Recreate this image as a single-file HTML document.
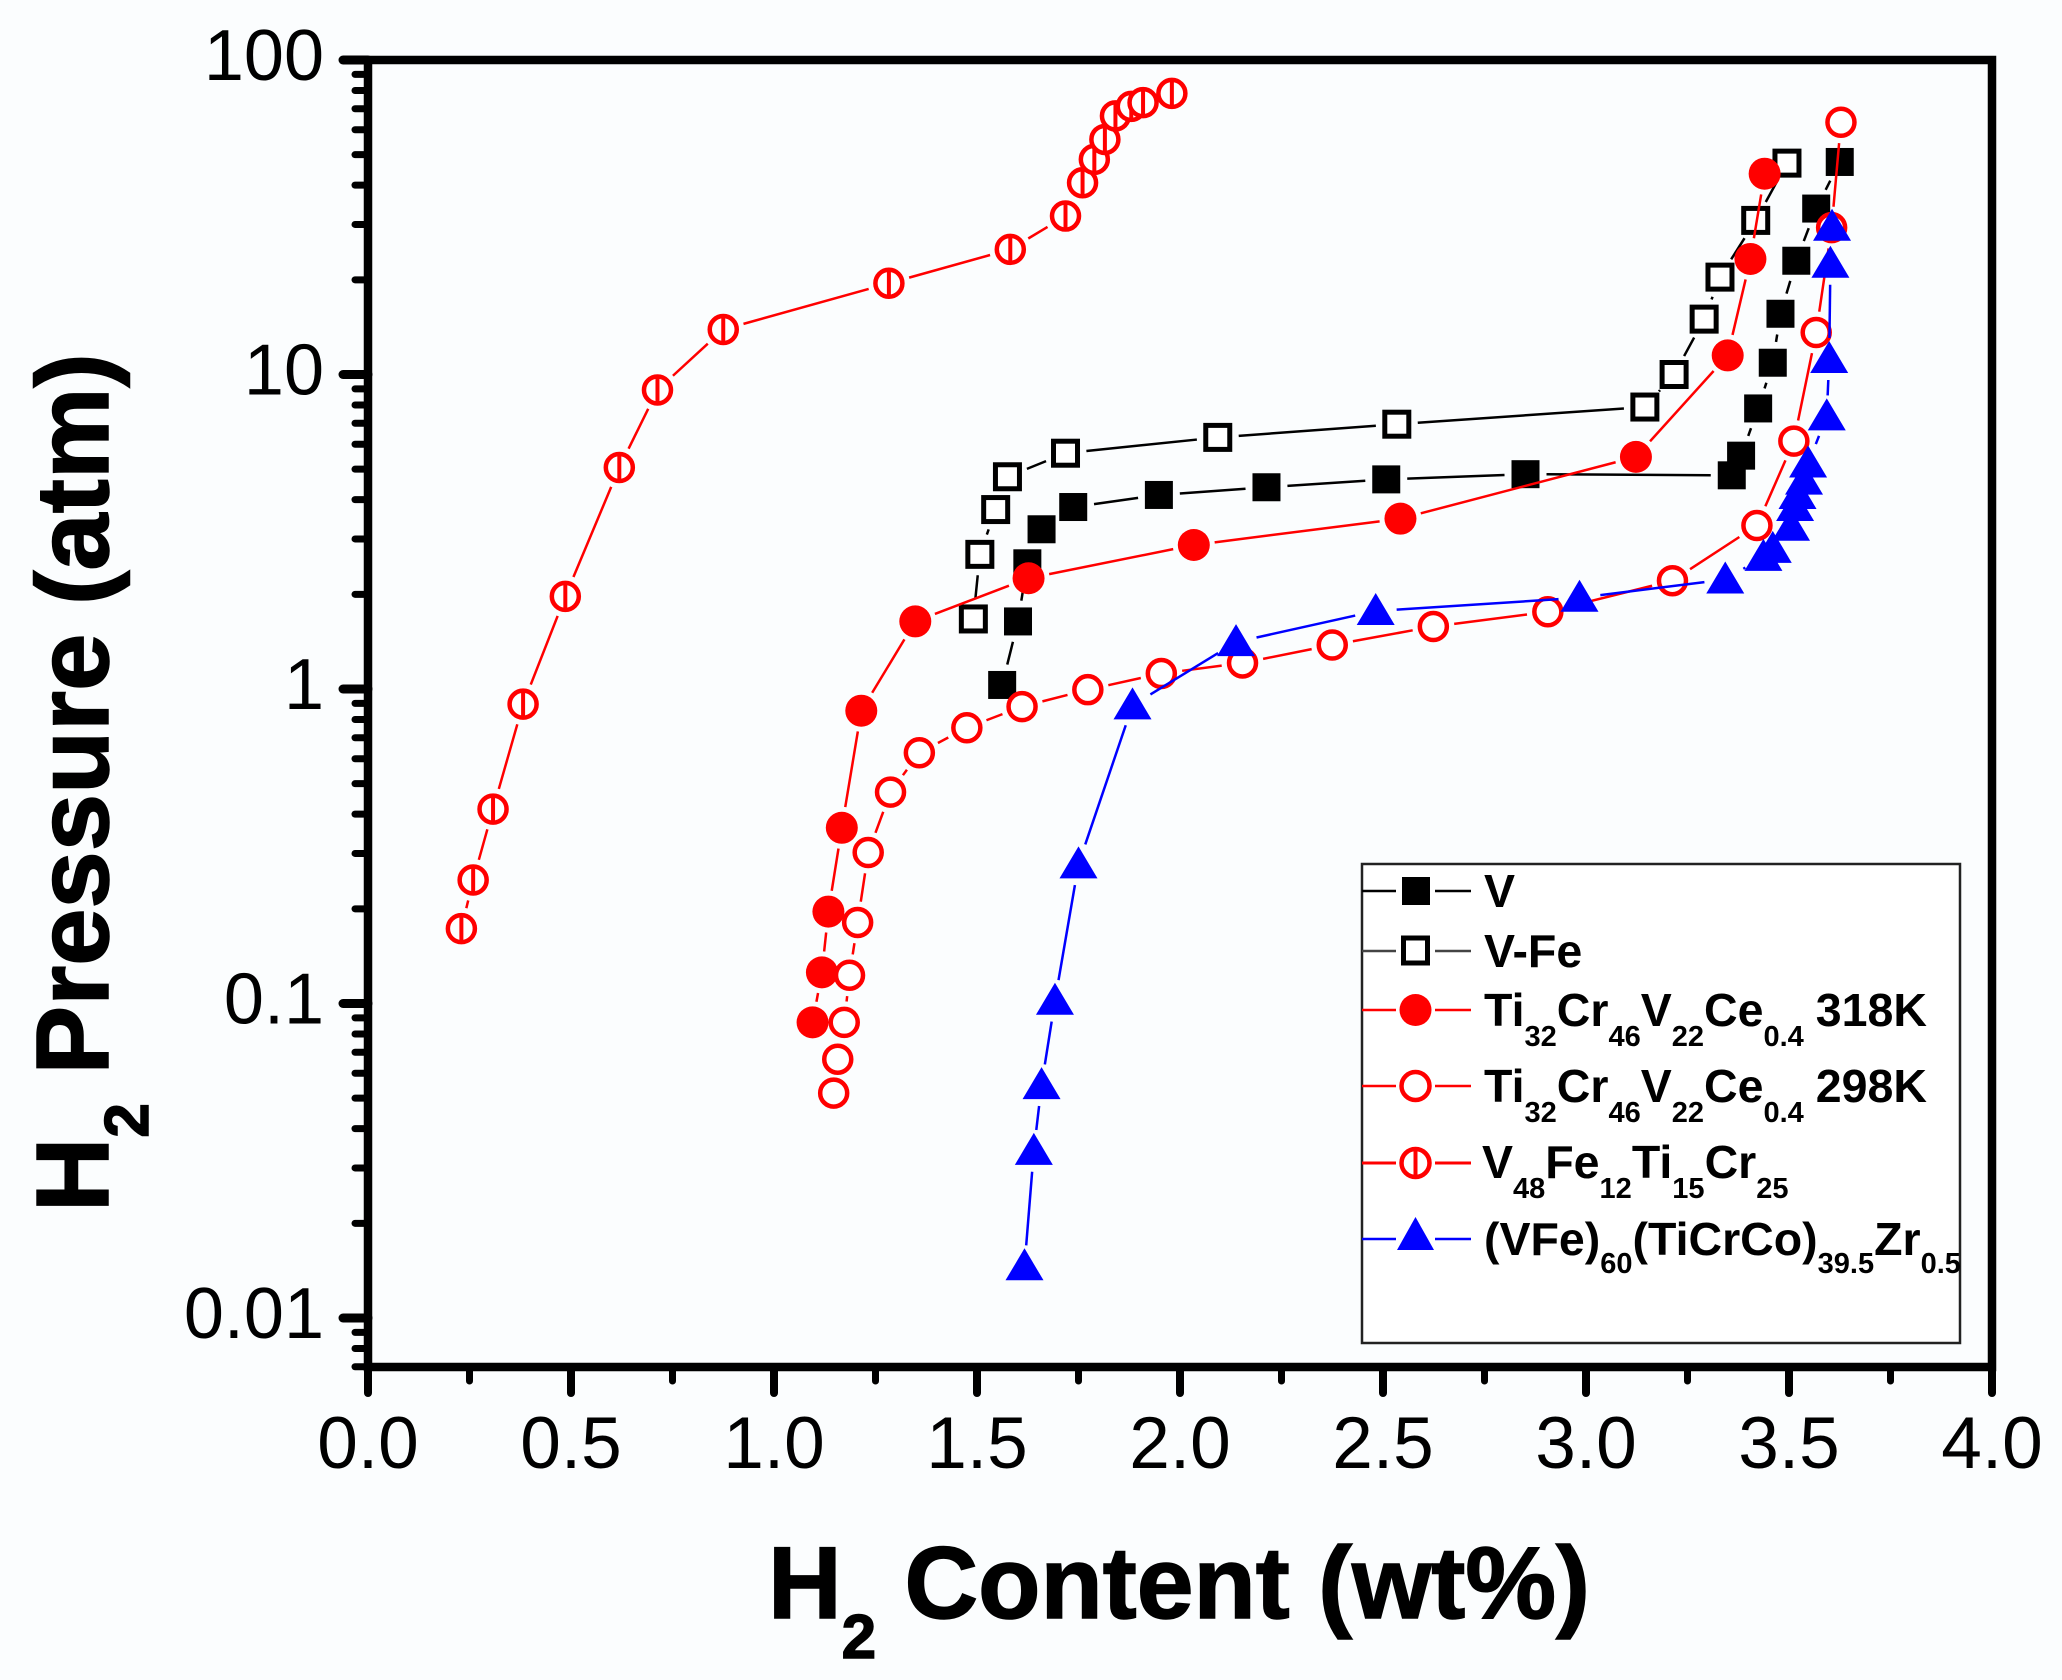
<!DOCTYPE html>
<html>
<head>
<meta charset="utf-8">
<title>Hydrogen PCT isotherms</title>
<style>
html,body{margin:0;padding:0;background:#fbfdfe;}
svg{display:block;font-family:"Liberation Sans",Arial,sans-serif;}
</style>
</head>
<body>
<svg id="chart" xmlns="http://www.w3.org/2000/svg" width="2062" height="1680" viewBox="0 0 2062 1680">
<rect x="0" y="0" width="2062" height="1680" fill="#fbfdfe"/>
<g id="series-layer"></g>
<g id="axis-layer"></g>
<text x="768" y="1618" font-size="102" font-weight="bold" fill="#000" stroke="#000" stroke-width="1.5">H<tspan font-size="62" dy="40">2</tspan><tspan dy="-40"> Content (wt%)</tspan></text>
<text transform="translate(108,1212) rotate(-90)" font-size="103" font-weight="bold" fill="#000" stroke="#000" stroke-width="1.5">H<tspan font-size="62" dy="40">2</tspan><tspan dy="-40"> Pressure (atm)</tspan></text>
<g id="legend">
<rect x="1362" y="864" width="598" height="479" fill="#fff" stroke="#222" stroke-width="2.5"/>
<g>
<path d="M1362 891H1396M1435 891H1471" stroke="#000" stroke-width="2.5" fill="none"/>
<rect x="1402" y="877" width="28" height="28" fill="#000"/>
<text x="1484" y="907" font-size="46.500" font-weight="bold">V</text>
</g>
<g>
<path d="M1362 951H1396M1435 951H1471" stroke="#444" stroke-width="2.5" fill="none"/>
<rect x="1403.500" y="938" width="24" height="25" fill="#fff" stroke="#000" stroke-width="5"/>
<text x="1484" y="967" font-size="46.500" font-weight="bold">V-Fe</text>
</g>
<g>
<path d="M1362 1010H1396M1435 1010H1471" stroke="#f00" stroke-width="2.5" fill="none"/>
<circle cx="1415.500" cy="1010" r="16" fill="#f00"/>
<text x="1484" y="1026" font-size="46.500" font-weight="bold">Ti<tspan font-size="29" dy="20">32</tspan><tspan dy="-20">Cr</tspan><tspan font-size="29" dy="20">46</tspan><tspan dy="-20">V</tspan><tspan font-size="29" dy="20">22</tspan><tspan dy="-20">Ce</tspan><tspan font-size="29" dy="20">0.4</tspan><tspan dy="-20" dx="12">318K</tspan></text>
</g>
<g>
<path d="M1362 1086H1396M1435 1086H1471" stroke="#f00" stroke-width="2.5" fill="none"/>
<circle cx="1415.500" cy="1086" r="14" fill="#fff" stroke="#f00" stroke-width="4.500"/>
<text x="1484" y="1102" font-size="46.500" font-weight="bold">Ti<tspan font-size="29" dy="20">32</tspan><tspan dy="-20">Cr</tspan><tspan font-size="29" dy="20">46</tspan><tspan dy="-20">V</tspan><tspan font-size="29" dy="20">22</tspan><tspan dy="-20">Ce</tspan><tspan font-size="29" dy="20">0.4</tspan><tspan dy="-20" dx="12">298K</tspan></text>
</g>
<g>
<path d="M1362 1163H1396M1435 1163H1471" stroke="#f00" stroke-width="3" fill="none"/>
<circle cx="1415.500" cy="1163" r="14" fill="#fff" stroke="#f00" stroke-width="4.500"/>
<path d="M1415.500 1149V1177" stroke="#f00" stroke-width="4"/>
<text x="1482" y="1178" font-size="46.500" font-weight="bold">V<tspan font-size="29" dy="20">48</tspan><tspan dy="-20">Fe</tspan><tspan font-size="29" dy="20">12</tspan><tspan dy="-20">Ti</tspan><tspan font-size="29" dy="20">15</tspan><tspan dy="-20">Cr</tspan><tspan font-size="29" dy="20">25</tspan></text>
</g>
<g>
<path d="M1362 1239H1396M1435 1239H1471" stroke="#00f" stroke-width="2.5" fill="none"/>
<path d="M1415.500 1217L1434 1250H1397Z" fill="#00f"/>
<text x="1484" y="1255" font-size="46.500" font-weight="bold">(VFe)<tspan font-size="29" dy="18">60</tspan><tspan dy="-18">(TiCrCo)</tspan><tspan font-size="29" dy="18">39.5</tspan><tspan dy="-18">Zr</tspan><tspan font-size="29" dy="18">0.5</tspan></text>
</g>
</g>
</svg>
<script>
// Data: hydrogen content (wt%) and pressure (atm)
const vContent = [1.562,1.601,1.624,1.659,1.737,1.948,2.213,2.508,2.851,3.359,3.382,3.424,3.460,3.479,3.518,3.567,3.625];
const vPressure = [1.03,1.64,2.51,3.22,3.79,4.14,4.38,4.64,4.82,4.78,5.52,7.80,10.9,15.6,23.0,33.7,47.4];
const vFeContent = [1.491,1.507,1.546,1.575,1.718,2.093,2.534,3.145,3.217,3.291,3.330,3.418,3.495];
const vFePressure = [1.67,2.68,3.72,4.73,5.62,6.31,6.95,7.88,10.0,15.0,20.4,30.9,47.0];
const ti318Content = [1.095,1.118,1.134,1.167,1.215,1.348,1.627,2.034,2.543,3.123,3.349,3.405,3.440];
const ti318Pressure = [0.0871,0.1256,0.196,0.362,0.853,1.64,2.25,2.87,3.48,5.47,11.5,23.3,43.5];
const ti298Content = [1.147,1.157,1.173,1.186,1.206,1.232,1.287,1.358,1.475,1.611,1.773,1.954,2.154,2.375,2.624,2.906,3.213,3.421,3.512,3.567,3.605,3.628];
const ti298Pressure = [0.0519,0.0665,0.0871,0.123,0.181,0.302,0.470,0.627,0.753,0.879,0.995,1.12,1.21,1.38,1.58,1.76,2.21,3.31,6.14,13.6,29.3,63.4];
const v48Content = [0.230,0.259,0.308,0.382,0.486,0.619,0.713,0.875,1.283,1.582,1.718,1.760,1.789,1.815,1.841,1.880,1.909,1.980];
const v48Pressure = [0.173,0.247,0.415,0.895,1.97,5.06,8.93,13.9,19.5,25.0,31.9,40.7,48.3,55.9,66.4,71.2,73.2,78.3];
const zrContent = [1.617,1.640,1.659,1.692,1.750,1.883,2.138,2.482,2.984,3.343,3.437,3.460,3.505,3.515,3.521,3.537,3.547,3.593,3.599,3.602,3.606];
const zrPressure = [0.0146,0.0340,0.0550,0.102,0.277,0.887,1.41,1.77,1.95,2.23,2.63,2.79,3.28,3.79,4.14,4.60,5.21,7.36,11.2,22.5,29.5];
const xMajorTicks = [0,0.5,1,1.5,2,2.5,3,3.5,4];
const xMajorLabels = ["0.0","0.5","1.0","1.5","2.0","2.5","3.0","3.5","4.0"];
const xMinorTicks = [0.25,0.75,1.25,1.75,2.25,2.75,3.25,3.75];
const yMajorTicks = [100,10,1,0.1,0.01];
const yMajorLabels = ["100","10","1","0.1","0.01"];
const yMinorMultipliers = [2,3,4,5,6,7,8,9];

const NS = "http://www.w3.org/2000/svg";
function xScale(v){ return 368 + v * 406; }
function yScale(v){ return 60 + (2 - Math.log10(v)) * 314.5; }
function make(tag, attrs, parent){
  const el = document.createElementNS(NS, tag);
  for (const k in attrs) el.setAttribute(k, attrs[k]);
  parent.appendChild(el);
  return el;
}
const seriesLayer = document.getElementById("series-layer");
const axisLayer = document.getElementById("axis-layer");

function drawMarker(kind, color, x, y, parent){
  let el;
  if (kind === "filled-square") {
    el = make("rect", {x:x-14, y:y-14, width:28, height:28, fill:color}, parent);
  } else if (kind === "open-square") {
    el = make("rect", {x:x-12, y:y-12, width:24, height:24, fill:"#fff", stroke:color, "stroke-width":5}, parent);
  } else if (kind === "filled-circle") {
    el = make("circle", {cx:x, cy:y, r:16, fill:color}, parent);
  } else if (kind === "open-circle") {
    el = make("circle", {cx:x, cy:y, r:13.5, fill:"#fff", stroke:color, "stroke-width":4.5}, parent);
  } else if (kind === "barred-circle") {
    el = make("g", {}, parent);
    make("circle", {cx:x, cy:y, r:13.5, fill:"#fff", stroke:color, "stroke-width":4.5}, el);
    make("line", {x1:x, y1:y-13, x2:x, y2:y+13, stroke:color, "stroke-width":4}, el);
  } else {
    el = make("path", {d:"M"+x+" "+(y-18)+"L"+(x+19)+" "+(y+14)+"L"+(x-19)+" "+(y+14)+"Z", fill:color}, parent);
  }
  
  
}

function drawSeries(name, xs, ys, color, kind, lineWidth){
  const g = make("g", {}, seriesLayer);
  
  
  const gap = 21;
  for (let i = 0; i < xs.length - 1; i++) {
    const x1 = xScale(xs[i]), y1 = yScale(ys[i]);
    const x2 = xScale(xs[i+1]), y2 = yScale(ys[i+1]);
    const len = Math.hypot(x2 - x1, y2 - y1);
    if (len <= gap * 2) continue;
    const ux = (x2 - x1) / len, uy = (y2 - y1) / len;
    const seg = make("line", {x1:x1+ux*gap, y1:y1+uy*gap, x2:x2-ux*gap, y2:y2-uy*gap, stroke:color, "stroke-width":lineWidth}, g);
    
    
  }
  for (let i = 0; i < xs.length; i++) {
    drawMarker(kind, color, xScale(xs[i]), yScale(ys[i]), g);
  }
}

drawSeries("series-v", vContent, vPressure, "#000", "filled-square", 2.5);
drawSeries("series-v-fe", vFeContent, vFePressure, "#000", "open-square", 2.5);
drawSeries("series-ti-318k", ti318Content, ti318Pressure, "#f00", "filled-circle", 2.5);
drawSeries("series-ti-298k", ti298Content, ti298Pressure, "#f00", "open-circle", 2.5);
drawSeries("series-v48", v48Content, v48Pressure, "#f00", "barred-circle", 2.5);
drawSeries("series-vfe-ticrco", zrContent, zrPressure, "#00f", "triangle", 2.5);

// Frame
const frame = make("rect", {x:368, y:60, width:1624, height:1307, fill:"none", stroke:"#000", "stroke-width":8.5}, axisLayer);



// X ticks
xMajorTicks.forEach(function(v, i){
  const x = xScale(v);
  const t = make("line", {x1:x, y1:1367, x2:x, y2:1393, stroke:"#000", "stroke-width":8, "stroke-linecap":"round"}, axisLayer);
  
  
  const l = make("text", {x:x, y:1468, "font-size":73, "text-anchor":"middle", fill:"#000"}, axisLayer);
  l.textContent = xMajorLabels[i];
  
  
});
xMinorTicks.forEach(function(v){
  const x = xScale(v);
  const t = make("line", {x1:x, y1:1367, x2:x, y2:1381, stroke:"#000", "stroke-width":7, "stroke-linecap":"round"}, axisLayer);
  
  
});

// Y ticks
yMajorTicks.forEach(function(v, i){
  const y = yScale(v);
  const t = make("line", {x1:368, y1:y, x2:343, y2:y, stroke:"#000", "stroke-width":9, "stroke-linecap":"round"}, axisLayer);
  
  
  const l = make("text", {x:324, y:y+20, "font-size":72, "text-anchor":"end", fill:"#000"}, axisLayer);
  l.textContent = yMajorLabels[i];
  
  
  yMinorMultipliers.forEach(function(m){
    const val = v * m;
    if (val > 100) return;
    const my = yScale(val);
    const mt = make("line", {x1:368, y1:my, x2:355, y2:my, stroke:"#000", "stroke-width":7, "stroke-linecap":"round"}, axisLayer);
    
    
  });
});
yMinorMultipliers.forEach(function(m){
  const val = 0.001 * m;
  if (val < 0.007) return;
  const my = yScale(val);
  const mt = make("line", {x1:368, y1:my, x2:355, y2:my, stroke:"#000", "stroke-width":7, "stroke-linecap":"round"}, axisLayer);
  
  
});
</script>
</body>
</html>
